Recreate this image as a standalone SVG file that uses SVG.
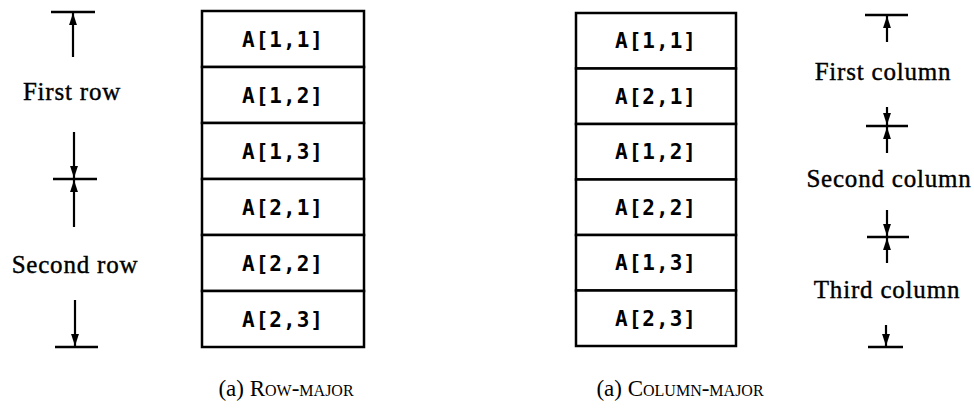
<svg xmlns="http://www.w3.org/2000/svg" width="974" height="412" viewBox="0 0 974 412">
<defs>
<style>
.cell{fill:#fff;stroke:#000;stroke-width:2.5}
.ct{font-family:"DejaVu Sans Mono","Liberation Mono",monospace;font-weight:bold;font-size:21px;letter-spacing:1px;text-anchor:middle;fill:#000}
.lbl{font-family:"Liberation Serif","Times New Roman",serif;font-size:25px;letter-spacing:0.8px;text-anchor:middle;fill:#000;stroke:#000;stroke-width:0.4}
.cap{font-family:"Liberation Serif","Times New Roman",serif;font-size:23px;text-anchor:middle;fill:#000}
.sc{font-variant:small-caps}
.dim{stroke:#000;stroke-width:2.2;fill:none}
.bar{stroke:#000;stroke-width:2.5}
</style>
<marker id="ah" viewBox="0 0 10 10" refX="10" refY="5" markerWidth="5.5" markerHeight="4" orient="auto" markerUnits="strokeWidth" preserveAspectRatio="none">
<path d="M0,0.5 L10,5 L0,9.5 z" fill="#000"/>
</marker>
</defs>

<g id="rowmajor">
<g id="r1"><rect class="cell" x="202" y="11" width="162" height="56"/><text class="ct" x="283" y="47">A[1,1]</text></g>
<g id="r2"><rect class="cell" x="202" y="67" width="162" height="56"/><text class="ct" x="283" y="103">A[1,2]</text></g>
<g id="r3"><rect class="cell" x="202" y="123" width="162" height="56"/><text class="ct" x="283" y="159">A[1,3]</text></g>
<g id="r4"><rect class="cell" x="202" y="179" width="162" height="56"/><text class="ct" x="283" y="215">A[2,1]</text></g>
<g id="r5"><rect class="cell" x="202" y="235" width="162" height="56"/><text class="ct" x="283" y="271">A[2,2]</text></g>
<g id="r6"><rect class="cell" x="202" y="291" width="162" height="56"/><text class="ct" x="283" y="327">A[2,3]</text></g>
</g>

<g id="colmajor">
<g id="c1"><rect class="cell" x="576" y="13" width="160" height="55.5"/><text class="ct" x="656" y="48">A[1,1]</text></g>
<g id="c2"><rect class="cell" x="576" y="68.5" width="160" height="55.5"/><text class="ct" x="656" y="104">A[2,1]</text></g>
<g id="c3"><rect class="cell" x="576" y="124" width="160" height="55.5"/><text class="ct" x="656" y="159">A[1,2]</text></g>
<g id="c4"><rect class="cell" x="576" y="179.5" width="160" height="55.5"/><text class="ct" x="656" y="215">A[2,2]</text></g>
<g id="c5"><rect class="cell" x="576" y="235" width="160" height="55.5"/><text class="ct" x="656" y="270">A[1,3]</text></g>
<g id="c6"><rect class="cell" x="576" y="290.5" width="160" height="55.5"/><text class="ct" x="656" y="326">A[2,3]</text></g>
</g>

<g id="connectors">
<line class="bar" x1="51" y1="12" x2="95" y2="12"/>
<line class="bar" x1="53" y1="179" x2="97" y2="179"/>
<line class="bar" x1="55" y1="347" x2="98" y2="347"/>
<line class="dim" x1="73" y1="57" x2="73" y2="13" marker-end="url(#ah)"/>
<line class="dim" x1="74" y1="132" x2="74" y2="178" marker-end="url(#ah)"/>
<line class="dim" x1="74" y1="227" x2="74" y2="180" marker-end="url(#ah)"/>
<line class="dim" x1="75" y1="300" x2="75" y2="346" marker-end="url(#ah)"/>

<line class="bar" x1="865" y1="15" x2="908" y2="15"/>
<line class="bar" x1="866" y1="126" x2="908" y2="126"/>
<line class="bar" x1="867" y1="237" x2="909" y2="237"/>
<line class="bar" x1="868" y1="347" x2="903" y2="347"/>
<line class="dim" x1="887" y1="42" x2="887" y2="16" marker-end="url(#ah)"/>
<line class="dim" x1="887" y1="107" x2="887" y2="125" marker-end="url(#ah)"/>
<line class="dim" x1="887" y1="153" x2="887" y2="127" marker-end="url(#ah)"/>
<line class="dim" x1="887" y1="210" x2="887" y2="236" marker-end="url(#ah)"/>
<line class="dim" x1="887" y1="263" x2="887" y2="238" marker-end="url(#ah)"/>
<line class="dim" x1="886" y1="325" x2="886" y2="346" marker-end="url(#ah)"/>
</g>

<g id="labels">
<text class="lbl" x="72" y="100">First row</text>
<text class="lbl" x="75" y="273">Second row</text>
<text class="lbl" x="883" y="80">First column</text>
<text class="lbl" x="889" y="187">Second column</text>
<text class="lbl" x="887" y="298">Third column</text>
</g>

<g id="captions">
<text class="cap" x="286" y="396">(a) <tspan class="sc">Row-major</tspan></text>
<text class="cap" x="680" y="396">(a) <tspan class="sc">Column-major</tspan></text>
</g>
</svg>
